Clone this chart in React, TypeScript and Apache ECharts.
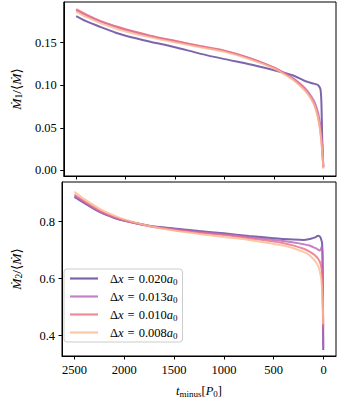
import React, { useEffect, useRef } from "react";
import * as echarts from "echarts";

// ---- data ----
const resolutions = ["0.020", "0.013", "0.010", "0.008"];
const seriesColors = ["#5d3e98", "#b564ba", "#eb6d82", "#fcb98e"];

const xTickValues = [0, 500, 1000, 1500, 2000, 2500];
const yTopTicks = [0, 0.05, 0.1, 0.15];
const yBottomTicks = [0.4, 0.6, 0.8];

// time before merger, in P0
const tSamples = [2500, 2400, 2250, 2100, 2000, 1750, 1500, 1250, 1000, 750, 500, 400, 300, 200, 150, 100, 75, 55, 40, 30, 22, 15, 10, 6, 3];

// top panel: Mdot_1 / <Mdot>
const m1_020 = [0.181, 0.175, 0.168, 0.1615, 0.158, 0.151, 0.1445, 0.137, 0.1305, 0.1245, 0.1175, 0.1145, 0.111, 0.1055, 0.1035, 0.1018, 0.101, 0.1, 0.0975, 0.094, 0.078, 0.04, 0.022, 0.01, 0.004];
const m1_013 = [0.188, 0.182, 0.1745, 0.1685, 0.165, 0.1575, 0.1515, 0.1455, 0.14, 0.1315, 0.1205, 0.1145, 0.1075, 0.098, 0.091, 0.082, 0.075, 0.067, 0.058, 0.05, 0.041, 0.031, 0.022, 0.013, 0.005];
const m1_010 = [0.189, 0.183, 0.175, 0.169, 0.1655, 0.158, 0.152, 0.146, 0.1405, 0.132, 0.1205, 0.114, 0.1065, 0.096, 0.089, 0.079, 0.071, 0.062, 0.052, 0.043, 0.034, 0.024, 0.016, 0.009, 0.003];
const m1_008 = [0.186, 0.18, 0.1725, 0.1665, 0.163, 0.156, 0.15, 0.1445, 0.139, 0.1305, 0.1195, 0.113, 0.1055, 0.095, 0.088, 0.078, 0.07, 0.061, 0.051, 0.042, 0.033, 0.023, 0.015, 0.008, 0.002];

// bottom panel: Mdot_2 / <Mdot>
const m2_020 = [0.887, 0.865, 0.834, 0.813, 0.803, 0.786, 0.776, 0.767, 0.759, 0.75, 0.742, 0.739, 0.737, 0.736, 0.738, 0.743, 0.747, 0.751, 0.749, 0.744, 0.736, 0.725, 0.68, 0.5, 0.35];
const m2_013 = [0.89, 0.868, 0.836, 0.814, 0.804, 0.785, 0.774, 0.764, 0.756, 0.746, 0.736, 0.732, 0.727, 0.721, 0.717, 0.71, 0.706, 0.702, 0.699, 0.702, 0.709, 0.712, 0.67, 0.48, 0.36];
const m2_010 = [0.895, 0.871, 0.839, 0.816, 0.805, 0.784, 0.771, 0.761, 0.753, 0.742, 0.73, 0.724, 0.716, 0.705, 0.697, 0.686, 0.678, 0.67, 0.661, 0.652, 0.64, 0.62, 0.585, 0.51, 0.43];
const m2_008 = [0.905, 0.879, 0.846, 0.821, 0.808, 0.785, 0.769, 0.757, 0.746, 0.736, 0.722, 0.716, 0.707, 0.694, 0.685, 0.668, 0.657, 0.645, 0.629, 0.613, 0.596, 0.565, 0.53, 0.49, 0.44];

const topValues = [m1_020, m1_013, m1_010, m1_008];
const bottomValues = [m2_020, m2_013, m2_010, m2_008];

const FONT = "'Liberation Serif', 'DejaVu Serif', serif";
const FS = 12.5;

const rich = {
  r: { fontFamily: FONT, fontSize: FS, color: "#000", lineHeight: 16 },
  e: { fontFamily: FONT, fontSize: FS, color: "#000", lineHeight: 16, padding: [0, 4, 0, 4] },
  i: { fontFamily: FONT, fontSize: FS, fontStyle: "italic", color: "#000", lineHeight: 16 },
  s: { fontFamily: FONT, fontSize: 9, color: "#000", lineHeight: 10, padding: [6, 0, 0, 0] },
};

const richName = {
  r: { ...rich.r, fontSize: 13.5 },
  i: { ...rich.i, fontSize: 13.5 },
  s: { ...rich.s, fontSize: 9.5 },
};

export default function App() {
  const ref = useRef<HTMLDivElement>(null);
  useEffect(() => {
    if (!ref.current) return;
    const chart = echarts.init(ref.current, null, { renderer: "svg" });

    const gridLeft = 57;
    const gridRight = 2;
    const grids = [
      { left: gridLeft, right: gridRight, top: 2, height: 174 },
      { left: gridLeft, right: gridRight, top: 182, height: 174 },
    ].map((g) => ({ ...g, show: true, borderColor: "#000", borderWidth: 1, backgroundColor: "transparent" }));

    const xAxisBase = (gi: number, showLabels: boolean) => ({
      type: "value",
      gridIndex: gi,
      min: -125,
      max: 2625,
      inverse: true,
      axisLine: { show: true, onZero: false, lineStyle: { color: "#000", width: 1 } },
      axisTick: { show: true, inside: false, length: 3.5, customValues: xTickValues, lineStyle: { color: "#000", width: 1 } },
      axisLabel: {
        show: showLabels,
        customValues: xTickValues,
        margin: 7,
        color: "#000",
        fontFamily: FONT,
        fontSize: FS,
        formatter: (v: number) => String(v),
      },
      splitLine: { show: false },
      ...(showLabels
        ? {
            name: "{i|t}{s|minus}{r|[}{i|P}{s|0}{r|]}",
            nameLocation: "middle",
            nameGap: 27,
            nameTextStyle: { rich },
          }
        : {}),
    });

    const yAxisBase = (gi: number, min: number, max: number, ticks: number[], digits: number, name: string) => ({
      type: "value",
      gridIndex: gi,
      min,
      max,
      axisLine: { show: true, onZero: false, lineStyle: { color: "#000", width: 1 } },
      axisTick: { show: true, inside: false, length: 3.5, customValues: ticks, lineStyle: { color: "#000", width: 1 } },
      axisLabel: {
        customValues: ticks,
        margin: 7,
        color: "#000",
        fontFamily: FONT,
        fontSize: FS,
        formatter: (v: number) => v.toFixed(digits),
      },
      splitLine: { show: false },
      name,
      nameLocation: "middle",
      nameRotate: 90,
      nameGap: 38,
      nameTextStyle: { rich: richName },
    });

    const series: any[] = [];
    resolutions.forEach((res, k) => {
      series.push({
        name: res,
        type: "line",
        xAxisIndex: 0,
        yAxisIndex: 0,
        data: tSamples.map((t, j) => [t, topValues[k][j]]),
        showSymbol: false,
        symbol: "none",
        smooth: 0.25,
        lineStyle: { color: seriesColors[k], width: 2, opacity: 0.8 },
        itemStyle: { color: seriesColors[k], opacity: 0.8 },
        z: 2 + k,
      });
      series.push({
        name: res,
        type: "line",
        xAxisIndex: 1,
        yAxisIndex: 1,
        data: tSamples.map((t, j) => [t, bottomValues[k][j]]),
        showSymbol: false,
        symbol: "none",
        smooth: 0.25,
        lineStyle: { color: seriesColors[k], width: 2, opacity: 0.8 },
        itemStyle: { color: seriesColors[k], opacity: 0.8 },
        z: 2 + k,
      });
    });

    chart.setOption({
      animation: false,
      backgroundColor: "#fff",
      grid: grids,
      xAxis: [xAxisBase(0, false), xAxisBase(1, true)],
      yAxis: [
        yAxisBase(0, -0.0065, 0.1975, yTopTicks, 2, "{i|Ṁ}{s|1}{r|/⟨}{i|Ṁ}{r|⟩}"),
        yAxisBase(1, 0.329, 0.939, yBottomTicks, 1, "{i|Ṁ}{s|2}{r|/⟨}{i|Ṁ}{r|⟩}"),
      ],
      legend: {
        data: resolutions,
        orient: "vertical",
        left: 64,
        top: 269,
        padding: [2, 5, 2, 6],
        itemGap: 3,
        itemWidth: 28,
        itemHeight: 2.2,
        icon: "rect",
        borderColor: "#cccccc",
        borderWidth: 1,
        borderRadius: 3,
        backgroundColor: "rgba(255,255,255,0.8)",
        formatter: (name: string) => `{r|Δ}{i|x}{e|=}{r|${name}}{i|a}{s|0}`,
        textStyle: { rich, padding: [0, 0, 0, 7] },
      },
      series,
    });

    return () => chart.dispose();
  }, []);

  return <div ref={ref} style={{ position: "absolute", left: 0, top: 0, width: 338, height: 400 }} />;
}
